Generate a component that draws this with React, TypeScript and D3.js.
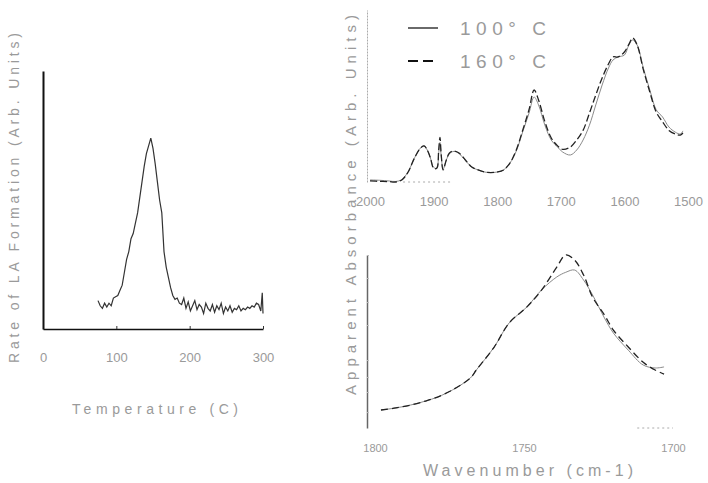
import React, { useEffect, useRef } from 'react';
import * as d3 from 'd3';

// left panel: rate of LA formation vs temperature
const tempC = [75, 78, 81, 84, 87, 90, 93, 96, 99, 102, 105, 108, 111, 114, 117, 120, 123, 126, 129, 132, 135, 138, 141, 144, 147, 150, 153, 156, 159, 162, 165, 168, 171, 174, 177, 180, 183, 186, 189, 192, 195, 198, 201, 204, 207, 210, 213, 216, 219, 222, 225, 228, 231, 234, 237, 240, 243, 246, 249, 252, 255, 258, 261, 264, 267, 270, 273, 276, 279, 282, 285, 288, 291, 294, 297, 299, 300];
const laRate = [0.11, 0.09, 0.08, 0.1, 0.085, 0.1, 0.09, 0.12, 0.125, 0.13, 0.15, 0.17, 0.22, 0.27, 0.3, 0.35, 0.37, 0.41, 0.45, 0.51, 0.57, 0.63, 0.68, 0.71, 0.74, 0.7, 0.64, 0.57, 0.5, 0.45, 0.3, 0.24, 0.2, 0.16, 0.13, 0.115, 0.12, 0.1, 0.095, 0.12, 0.08, 0.105, 0.07, 0.09, 0.11, 0.075, 0.095, 0.085, 0.06, 0.1, 0.08, 0.07, 0.095, 0.065, 0.09, 0.075, 0.1, 0.06, 0.085, 0.07, 0.09, 0.065, 0.08, 0.075, 0.09, 0.07, 0.08, 0.075, 0.085, 0.08, 0.09, 0.085, 0.1, 0.095, 0.07, 0.14, 0.06];
const tempTicks = [0, 100, 200, 300];

// top right panel: full spectrum
const wnTop = [2000, 1985, 1970, 1960, 1950, 1940, 1930, 1920, 1915, 1910, 1905, 1900, 1895, 1892, 1890, 1888, 1885, 1880, 1875, 1868, 1860, 1850, 1840, 1830, 1820, 1810, 1800, 1790, 1780, 1770, 1760, 1750, 1742, 1735, 1725, 1715, 1705, 1697, 1685, 1675, 1665, 1655, 1645, 1635, 1625, 1618, 1610, 1600, 1593, 1587, 1580, 1570, 1560, 1550, 1540, 1530, 1520, 1512, 1508];
const abs160Top = [0.006, 0.004, 0.002, 0, 0.012, 0.058, 0.14, 0.2, 0.21, 0.186, 0.14, 0.08, 0.08, 0.186, 0.26, 0.157, 0.07, 0.128, 0.169, 0.18, 0.169, 0.128, 0.087, 0.07, 0.058, 0.055, 0.058, 0.07, 0.11, 0.186, 0.3, 0.42, 0.535, 0.477, 0.35, 0.256, 0.21, 0.19, 0.203, 0.244, 0.3, 0.4, 0.506, 0.605, 0.686, 0.727, 0.727, 0.756, 0.8, 0.837, 0.797, 0.65, 0.523, 0.407, 0.35, 0.3, 0.279, 0.273, 0.285];
const abs100Top = [0.012, 0.01, 0.006, 0.003, 0.014, 0.06, 0.14, 0.2, 0.21, 0.186, 0.14, 0.085, 0.08, 0.17, 0.23, 0.15, 0.075, 0.128, 0.165, 0.178, 0.165, 0.125, 0.087, 0.07, 0.058, 0.055, 0.058, 0.07, 0.11, 0.18, 0.29, 0.4, 0.494, 0.448, 0.33, 0.244, 0.203, 0.174, 0.157, 0.186, 0.244, 0.33, 0.448, 0.564, 0.663, 0.709, 0.727, 0.738, 0.797, 0.826, 0.797, 0.66, 0.535, 0.42, 0.378, 0.32, 0.29, 0.279, 0.297];
const wnTopTicks = [2000, 1900, 1800, 1700, 1600, 1500];
const wnTopBase = [1948, 1874];

// bottom right panel: carbonyl region
const wnBottom = [1798, 1793, 1788, 1783, 1779, 1774, 1768, 1766, 1760, 1755, 1749, 1744, 1739, 1736, 1733, 1730, 1727, 1723, 1720, 1715, 1710, 1706, 1703];
const abs160Bottom = [0.104, 0.116, 0.133, 0.156, 0.179, 0.22, 0.289, 0.335, 0.468, 0.607, 0.7, 0.8, 0.93, 1.0, 0.97, 0.884, 0.757, 0.653, 0.566, 0.468, 0.38, 0.335, 0.312];
const abs100Bottom = [0.104, 0.116, 0.133, 0.156, 0.179, 0.22, 0.289, 0.335, 0.468, 0.607, 0.7, 0.8, 0.873, 0.9, 0.913, 0.855, 0.769, 0.636, 0.549, 0.45, 0.364, 0.347, 0.353];
const wnBottomTicks = [1800, 1750, 1700];
const absBottomTicks = [1.0, 0.867, 0.728, 0.595, 0.393, 0.295, 0.208, 0.092];
const wnBottomBase = [1712, 1700];

const legendLabels = ['100\u00B0 C', '160\u00B0 C'];

const FONT = '"Liberation Sans", Arial, sans-serif';
const TEXT = '#9a9a9a';

export default function App() {
  const ref = useRef<SVGSVGElement>(null);

  useEffect(() => {
    const svg = d3.select(ref.current);
    svg.selectAll('*').remove();

    const styleAxis = (g: any) => {
      g.attr('font-family', FONT).attr('font-size', 13);
      g.selectAll('text').attr('fill', TEXT);
    };

    // ---------- left panel ----------
    const xL = d3.scaleLinear().domain([0, 300]).range([43, 263]);
    const yL = d3.scaleLinear().domain([0, 1]).range([329, 71]);

    const gxL = svg.append('g').attr('transform', `translate(0, ${yL(0)})`)
      .call(d3.axisBottom(xL).tickValues(tempTicks).tickSize(-3).tickSizeOuter(0).tickPadding(24).tickFormat(d3.format('d')));
    styleAxis(gxL);
    gxL.select('.domain').attr('stroke', '#111').attr('stroke-width', 1.6);
    gxL.selectAll('line').attr('stroke', '#333');

    svg.append('g').attr('transform', `translate(${xL(0)}, 0)`)
      .call(d3.axisLeft(yL).tickValues([]).tickSizeOuter(0))
      .select('.domain').attr('stroke', '#111').attr('stroke-width', 2);

    const lineL = d3.line<number>().x((d, i) => xL(tempC[i])).y(d => yL(d));
    svg.append('path').datum(laRate).attr('d', lineL)
      .attr('fill', 'none').attr('stroke', '#333').attr('stroke-width', 1.2);

    svg.append('text').text('Temperature (C)')
      .attr('x', 155).attr('y', 414).attr('text-anchor', 'middle')
      .attr('font-family', FONT).attr('font-size', 14).attr('fill', TEXT)
      .attr('textLength', 166).attr('lengthAdjust', 'spacing');

    svg.append('text').text('Rate of LA Formation (Arb. Units)')
      .attr('transform', 'translate(19, 198) rotate(-90)').attr('text-anchor', 'middle')
      .attr('font-family', FONT).attr('font-size', 14).attr('fill', TEXT)
      .attr('textLength', 330).attr('lengthAdjust', 'spacing');

    // ---------- top right panel ----------
    const xT = d3.scaleLinear().domain([2000, 1500]).range([370, 688]);
    const yT = d3.scaleLinear().domain([0, 1]).range([182, 10]);

    const gxT = svg.append('g').attr('transform', `translate(0, ${yT(0)})`)
      .call(d3.axisBottom(xT).tickValues(wnTopTicks).tickSize(0).tickPadding(15).tickFormat(d3.format('d')));
    styleAxis(gxT);
    gxT.select('.domain').remove();

    svg.append('g').attr('transform', `translate(367, 0)`)
      .call(d3.axisLeft(yT).tickValues([]).tickSizeOuter(0))
      .select('.domain').attr('stroke', '#aaa').attr('stroke-width', 1).attr('stroke-dasharray', '2,1');

    const lineT = d3.line<number>().x((d, i) => xT(wnTop[i])).y(d => yT(d)).curve(d3.curveCatmullRom);
    svg.append('path').datum(abs100Top).attr('d', lineT)
      .attr('fill', 'none').attr('stroke', '#8a8a8a').attr('stroke-width', 1);
    svg.append('path').datum(abs160Top).attr('d', lineT)
      .attr('fill', 'none').attr('stroke', '#222').attr('stroke-width', 1.3).attr('stroke-dasharray', '7,3');

    svg.append('line').attr('x1', xT(wnTopBase[0])).attr('x2', xT(wnTopBase[1]))
      .attr('y1', yT(0)).attr('y2', yT(0))
      .attr('stroke', '#aaa').attr('stroke-dasharray', '2,3');

    // legend
    const legend = svg.append('g').attr('transform', 'translate(408, 28)');
    legendLabels.forEach((lab, i) => {
      legend.append('line').attr('x1', 0).attr('x2', 30).attr('y1', i * 33).attr('y2', i * 33)
        .attr('stroke', i === 0 ? '#444' : '#111').attr('stroke-width', i === 0 ? 1.6 : 2)
        .attr('stroke-dasharray', i === 0 ? null : '10,5');
      legend.append('text').text(lab).attr('x', 52).attr('y', i * 33 + 7)
        .attr('font-family', FONT).attr('font-size', 19).attr('fill', TEXT)
        .attr('textLength', 86).attr('lengthAdjust', 'spacing');
    });

    // ---------- bottom right panel ----------
    const xB = d3.scaleLinear().domain([1800, 1700]).range([375, 673]);
    const yB = d3.scaleLinear().domain([0, 1]).range([428, 255]);

    const gxB = svg.append('g').attr('transform', `translate(0, ${yB(0)})`)
      .call(d3.axisBottom(xB).tickValues(wnBottomTicks).tickSize(0).tickPadding(16).tickFormat(d3.format('d')));
    styleAxis(gxB);
    gxB.attr('font-size', 11);
    gxB.select('.domain').remove();

    const gyB = svg.append('g').attr('transform', `translate(367, 0)`)
      .call(d3.axisLeft(yB).tickValues(absBottomTicks).tickSize(-2).tickSizeOuter(0).tickFormat(() => ''));
    gyB.select('.domain').attr('stroke', '#666').attr('stroke-width', 1.5);
    gyB.selectAll('line').attr('stroke', '#bbb');

    const lineB = d3.line<number>().x((d, i) => xB(wnBottom[i])).y(d => yB(d)).curve(d3.curveCatmullRom);
    svg.append('path').datum(abs100Bottom).attr('d', lineB)
      .attr('fill', 'none').attr('stroke', '#8a8a8a').attr('stroke-width', 1);
    svg.append('path').datum(abs160Bottom).attr('d', lineB)
      .attr('fill', 'none').attr('stroke', '#222').attr('stroke-width', 1.3).attr('stroke-dasharray', '7,4');

    svg.append('line').attr('x1', xB(wnBottomBase[0])).attr('x2', xB(wnBottomBase[1]))
      .attr('y1', yB(0)).attr('y2', yB(0))
      .attr('stroke', '#aaa').attr('stroke-dasharray', '2,3');

    svg.append('text').text('Wavenumber (cm-1)')
      .attr('x', 528).attr('y', 476).attr('text-anchor', 'middle')
      .attr('font-family', FONT).attr('font-size', 16).attr('fill', TEXT)
      .attr('textLength', 210).attr('lengthAdjust', 'spacing');

    svg.append('text').text('Apparent Absorbance (Arb. Units)')
      .attr('transform', 'translate(356, 205) rotate(-90)').attr('text-anchor', 'middle')
      .attr('font-family', FONT).attr('font-size', 15).attr('fill', TEXT)
      .attr('textLength', 380).attr('lengthAdjust', 'spacing');
  }, []);

  return (
    <svg ref={ref} width={708} height={483}
      style={{ position: 'absolute', left: 0, top: 0, background: '#fff' }} />
  );
}
